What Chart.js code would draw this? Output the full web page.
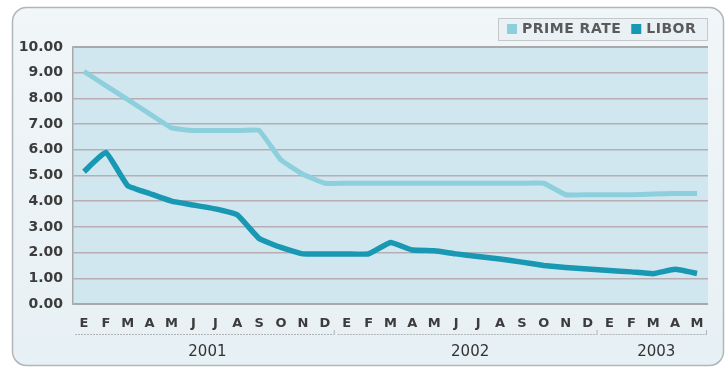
<!DOCTYPE html>
<html>
<head>
<meta charset="utf-8">
<script src="https://cdn.jsdelivr.net/npm/chart.js@4.4.0/dist/chart.umd.min.js"></script>
<style>
  html, body { margin: 0; padding: 0; background: #fff; }
  #wrap { width: 725px; height: 370px; }
</style>
</head>
<body>
<div id="wrap"><canvas id="rateChart" width="725" height="370"></canvas></div>
<script>
// month initials (Spanish), grouped by year below the axis
const months = ['E','F','M','A','M','J','J','A','S','O','N','D',
                'E','F','M','A','M','J','J','A','S','O','N','D',
                'E','F','M','A','M'];
const years = ['2001', '2002', '2003'];
const monthsPerYear = [12, 12, 5];

const primeRate = [9.05, 8.5, 7.95, 7.4, 6.85, 6.75, 6.75, 6.75, 6.75, 5.6, 5.05, 4.7,
                   4.7, 4.7, 4.7, 4.7, 4.7, 4.7, 4.7, 4.7, 4.7, 4.7, 4.25, 4.25,
                   4.25, 4.25, 4.28, 4.3, 4.3];
const libor = [5.15, 5.9, 4.6, 4.3, 4.0, 3.85, 3.7, 3.47, 2.55, 2.2, 1.95, 1.95,
               1.95, 1.95, 2.39, 2.1, 2.07, 1.95, 1.85, 1.75, 1.63, 1.5, 1.42, 1.36,
               1.3, 1.25, 1.18, 1.35, 1.19];

const yMin = 0, yMax = 10, yStep = 1;

const colPrime = '#8dcfdc';
const colLibor = '#1898b3';
const gridCol = '#b8adb3';

function roundRect(c, x, y, w, h, r) {
  c.beginPath();
  c.moveTo(x + r, y);
  c.arcTo(x + w, y, x + w, y + h, r);
  c.arcTo(x + w, y + h, x, y + h, r);
  c.arcTo(x, y + h, x, y, r);
  c.arcTo(x, y, x + w, y, r);
  c.closePath();
}

const decor = {
  id: 'decor',
  beforeDraw(chart) {
    const c = chart.ctx;
    const a = chart.chartArea;
    c.save();
    // outer panel
    const g = c.createLinearGradient(0, 7, 0, 366);
    g.addColorStop(0, '#f1f6f8');
    g.addColorStop(1, '#e7f0f4');
    roundRect(c, 12.5, 7.5, 711, 358, 14);
    c.fillStyle = g;
    c.fill();
    c.strokeStyle = '#b3b6b8';
    c.lineWidth = 1.5;
    c.stroke();
    // plot background
    c.fillStyle = '#d0e7ef';
    c.fillRect(a.left, a.top, a.right - a.left, a.bottom - a.top);
    c.restore();
  },
  afterDraw(chart) {
    const c = chart.ctx;
    const x = chart.scales.x;
    c.save();

    // legend box
    c.fillStyle = '#eaf1f4';
    c.fillRect(498, 18, 209, 22);
    c.strokeStyle = '#c4c8ca';
    c.lineWidth = 1;
    c.strokeRect(498.5, 18.5, 209, 22);
    c.font = 'bold 14px "DejaVu Sans"';
    c.textBaseline = 'middle';
    c.letterSpacing = '0.5px';
    let lx = 507;
    chart.data.datasets.forEach(ds => {
      c.fillStyle = ds.borderColor;
      c.fillRect(lx, 24, 10, 10);
      lx += 15;
      c.fillStyle = '#5a5a5a';
      c.textAlign = 'left';
      c.fillText(ds.label, lx, 29.5);
      lx += c.measureText(ds.label).width + 10;
    });
    c.letterSpacing = '0px';

    // year groups under the month letters
    const half = (x.getPixelForValue(1) - x.getPixelForValue(0)) / 2;
    let start = 0;
    c.strokeStyle = '#b0b4b7';
    c.lineWidth = 1;
    c.fillStyle = '#333';
    c.font = '15px "DejaVu Sans"';
    c.textAlign = 'center';
    years.forEach((yr, i) => {
      const end = start + monthsPerYear[i] - 1;
      const x0 = x.getPixelForValue(start) - half + 2;
      const x1 = x.getPixelForValue(end) + half - 2;
      c.setLineDash([2, 1]);
      c.beginPath();
      c.moveTo(x0, 334.5);
      c.lineTo(x1, 334.5);
      c.stroke();
      c.setLineDash([]);
      c.beginPath();
      c.moveTo(x1 + 0.5, 335);
      c.lineTo(x1 + 0.5, 330);
      c.stroke();
      c.fillText(yr, (x0 + x1) / 2 + 3, 352);
      start = end + 1;
    });
    c.restore();
  }
};

new Chart(document.getElementById('rateChart'), {
  type: 'line',
  data: {
    labels: months,
    datasets: [
      { label: 'PRIME RATE', data: primeRate, borderColor: colPrime, backgroundColor: colPrime,
        borderWidth: 5, pointRadius: 0, tension: 0.1, fill: false },
      { label: 'LIBOR', data: libor, borderColor: colLibor, backgroundColor: colLibor,
        borderWidth: 5.5, pointRadius: 0, tension: 0.1, fill: false }
    ]
  },
  options: {
    responsive: false,
    animation: false,
    layout: { padding: { top: 47, right: 17, left: 0, bottom: 0 } },
    plugins: { legend: { display: false }, tooltip: { enabled: false } },
    scales: {
      x: {
        offset: true,
        grid: { display: false, drawTicks: false },
        border: { display: false },
        ticks: {
          autoSkip: false, maxRotation: 0, padding: 12,
          color: '#3c3c3c',
          font: { family: 'DejaVu Sans', size: 13, weight: 'bold' }
        },
        afterFit(s) { s.height = 66; }
      },
      y: {
        min: yMin, max: yMax,
        grid: {
          color: ctx => (ctx.tick.value === yMax || ctx.tick.value === yMin) ? '#a9a9ab' : gridCol,
          lineWidth: ctx => (ctx.tick.value === yMax || ctx.tick.value === yMin) ? 2 : 1.5,
          drawTicks: false
        },
        border: { color: '#a9a9ab', width: 1.5 },
        ticks: {
          stepSize: yStep, padding: 10,
          color: '#3c3c3c',
          font: { family: 'DejaVu Sans', size: 14, weight: 'bold' },
          callback: v => v.toFixed(2)
        },
        afterFit(s) { s.width = 73; }
      }
    }
  },
  plugins: [decor]
});
</script>
</body>
</html>
